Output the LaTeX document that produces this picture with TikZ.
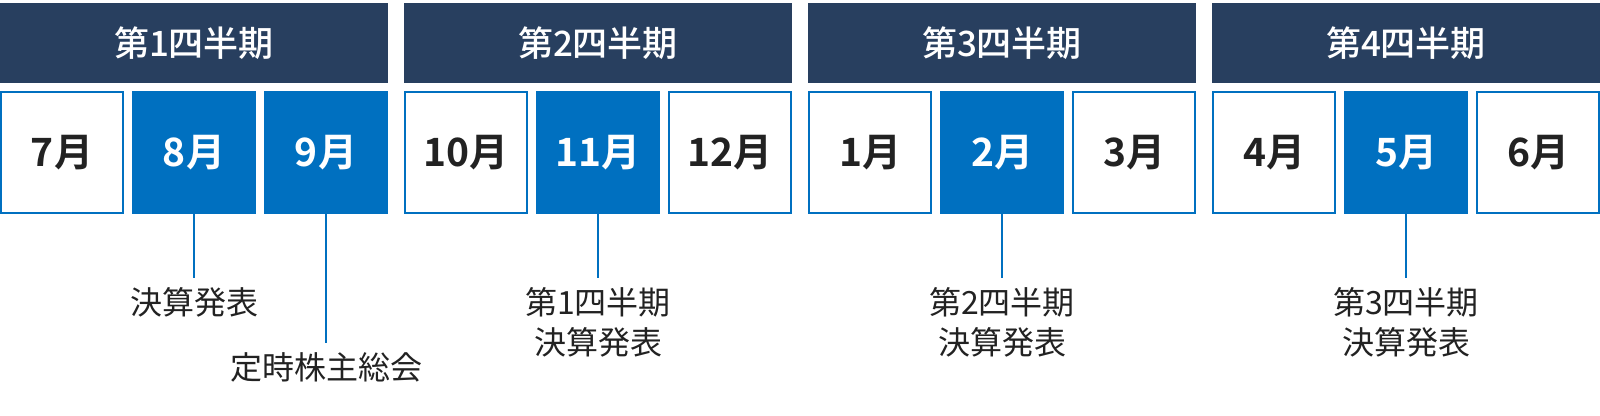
\documentclass[tikz,border=0pt]{standalone}
\usepackage{fontspec}
\setmainfont{Noto Sans CJK JP}[BoldFont={Noto Sans CJK JP Bold}]
\newfontfamily\midfont{Noto Sans CJK JP Medium}
\definecolor{navy}{HTML}{283F5F}
\definecolor{mblue}{HTML}{0070C0}
\definecolor{ink}{HTML}{222222}
\tikzstyle{qhead}=[fill=navy,text=white,minimum width=194pt,minimum height=40pt,inner sep=0pt,font=\fontsize{17.5}{20}\selectfont\midfont]
\tikzstyle{mon}=[draw=mblue,line width=1pt,fill=white,text=ink,minimum width=61pt,minimum height=60.5pt,inner sep=0pt,font=\fontsize{19.5}{22}\selectfont\bfseries]
\tikzstyle{hot}=[mon,fill=mblue,text=white]
\tikzstyle{mline}=[draw=mblue,line width=1pt]
\tikzstyle{note}=[text=ink,align=center,inner sep=0pt,font=\fontsize{16}{20}\selectfont]

\begin{document}
\begin{tikzpicture}[x=0.5pt,y=-0.5pt]
            \useasboundingbox (0,0) rectangle (1600,416);
            % quarters
            \node[qhead] (q1) at (194, 43) {第1四半期};
            \node[qhead] (q2) at (598, 43) {第2四半期};
            \node[qhead] (q3) at (1002, 43) {第3四半期};
            \node[qhead] (q4) at (1406, 43) {第4四半期};
            % months
            \node[mon] (m7) at (62, 152.5) {7月};
            \node[hot] (m8) at (194, 152.5) {8月};
            \node[hot] (m9) at (326, 152.5) {9月};
            \node[mon] (m10) at (466, 152.5) {10月};
            \node[hot] (m11) at (598, 152.5) {11月};
            \node[mon] (m12) at (730, 152.5) {12月};
            \node[mon] (m1) at (870, 152.5) {1月};
            \node[hot] (m2) at (1002, 152.5) {2月};
            \node[mon] (m3) at (1134, 152.5) {3月};
            \node[mon] (m4) at (1274, 152.5) {4月};
            \node[hot] (m5) at (1406, 152.5) {5月};
            \node[mon] (m6) at (1538, 152.5) {6月};
            % events
            \coordinate (e8) at (194, 278);
            \coordinate (e9) at (326, 343);
            \coordinate (e11) at (598, 278);
            \coordinate (e2) at (1002, 278);
            \coordinate (e5) at (1406, 278);
            \draw[mline] (m8.south) -- (e8);
            \draw[mline] (m9.south) -- (e9);
            \draw[mline] (m11.south) -- (e11);
            \draw[mline] (m2.south) -- (e2);
            \draw[mline] (m5.south) -- (e5);
            \node[note] (l8) at (194, 302) {決算発表};
            \node[note] (l9) at (326, 367) {定時株主総会};
            \node[note] (l11) at (598, 322.5) {第1四半期\\決算発表};
            \node[note] (l2) at (1002, 322.5) {第2四半期\\決算発表};
            \node[note] (l5) at (1406, 322.5) {第3四半期\\決算発表};
        \end{tikzpicture}
\end{document}
